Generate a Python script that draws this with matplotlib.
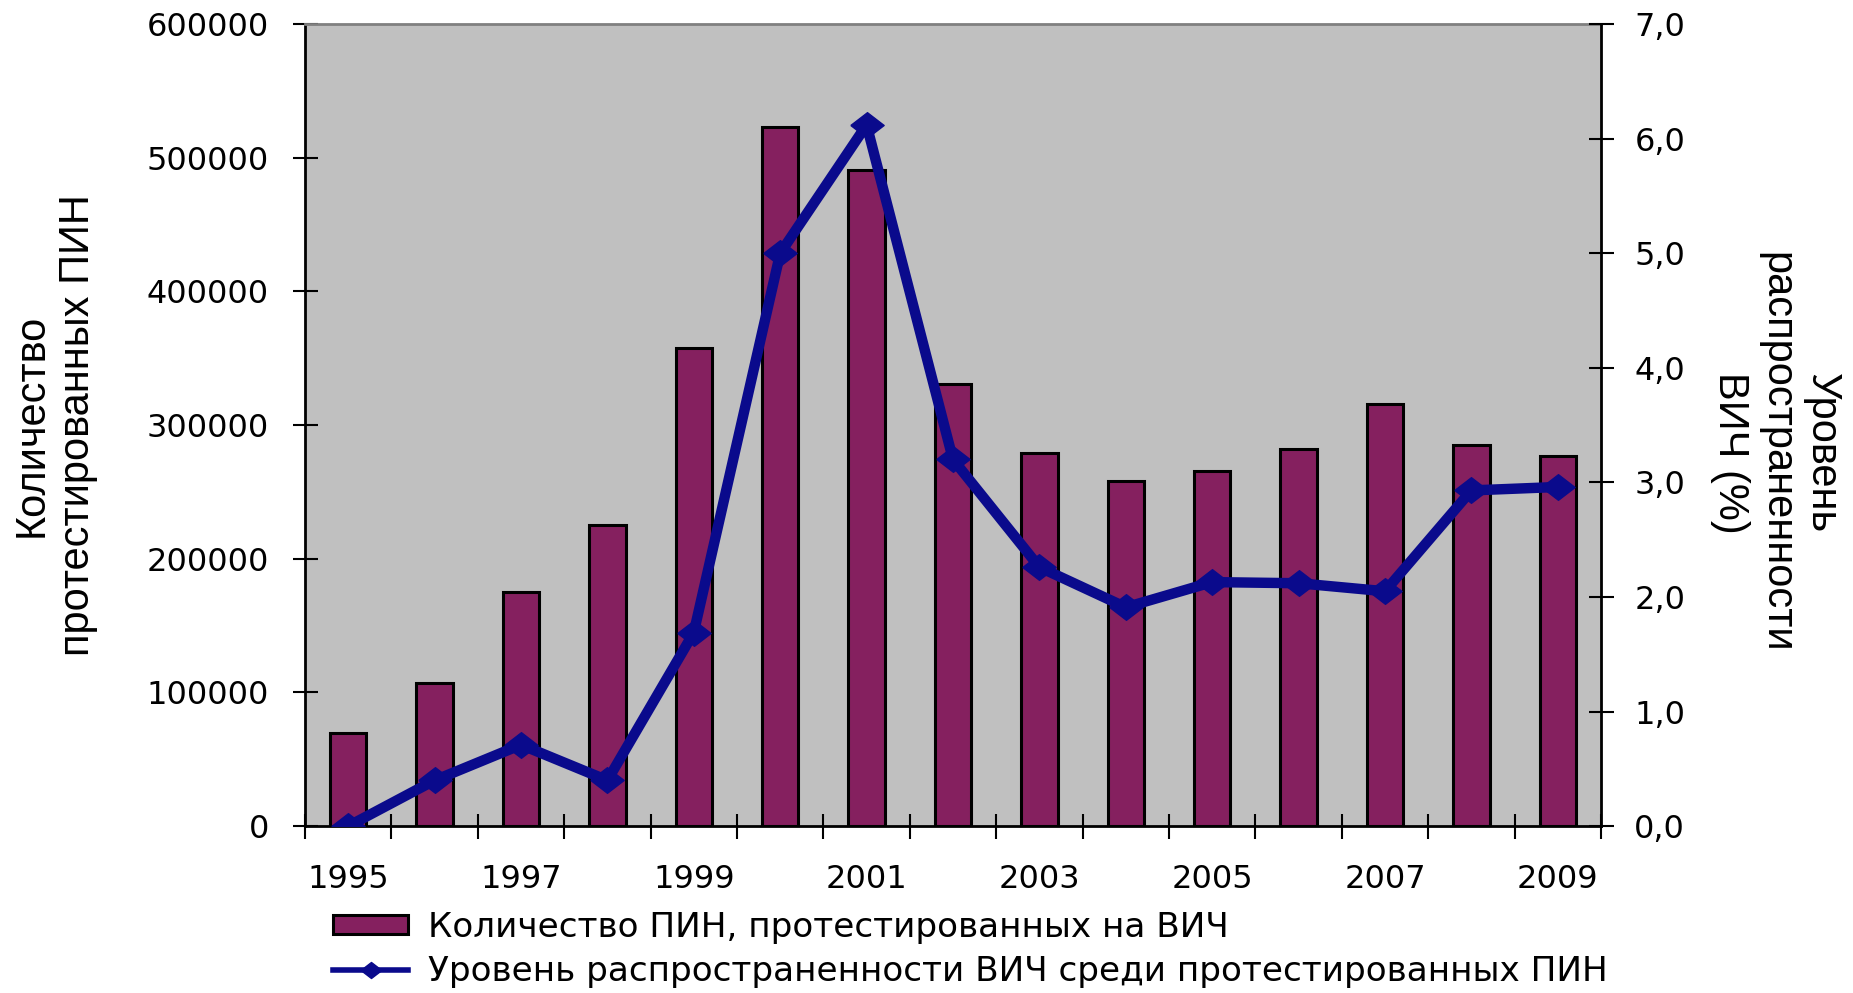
import matplotlib
matplotlib.use("Agg")
import matplotlib.pyplot as plt
import numpy as np

plt.rcParams['font.family'] = ['Liberation Sans', 'DejaVu Sans']

years = [1995, 1996, 1997, 1998, 1999, 2000, 2001, 2002, 2003, 2004, 2005, 2006, 2007, 2008, 2009]
tested = [70000, 107000, 175000, 225000, 358000, 523000, 491000, 331000,
          279000, 258000, 266000, 282000, 316000, 285000, 277000]
prevalence = [0.0, 0.40, 0.71, 0.40, 1.69, 5.0, 6.12, 3.2,
              2.26, 1.91, 2.13, 2.12, 2.05, 2.93, 2.96]

bar_label = "Количество ПИН, протестированных на ВИЧ"
line_label = "Уровень распространенности ВИЧ среди протестированных ПИН"

tick_font = {'family': 'DejaVu Sans', 'size': 23}
diamond = [(-1.3, 0), (0, 1), (1.3, 0), (0, -1), (-1.3, 0)]

fig = plt.figure(figsize=(18.53, 9.93), dpi=100)
ax = fig.add_axes([0.1646, 0.168, 0.6994, 0.8078])
ax.set_facecolor('#c0c0c0')

x = np.arange(len(years))
bars = ax.bar(x, tested, width=0.42, color='#85205f', edgecolor='black', linewidth=2.2,
              label=bar_label, zorder=2)
ax.set_xlim(-0.5, len(years) - 0.5)
ax.set_ylim(0, 600000)
ax.set_yticks(range(0, 600001, 100000))
ax.set_yticklabels([str(v) for v in range(0, 600001, 100000)], fontdict=tick_font)
ax.tick_params(axis='y', direction='inout', length=18, width=1.5, pad=17)

ax.set_xticks(x[::2])
ax.set_xticklabels([str(y) for y in years[::2]], fontdict=tick_font)
ax.set_xticks(np.arange(-0.5, len(years), 1.0), minor=True)
ax.tick_params(axis='x', which='major', length=0, pad=27)
ax.tick_params(axis='x', which='minor', direction='inout', length=18, width=1.5)

for s in ['left', 'bottom']:
    ax.spines[s].set_linewidth(2)
ax.spines['top'].set_color('#808080')
ax.spines['top'].set_linewidth(2)
ax.spines['right'].set_visible(False)

ax2 = ax.twinx()
ln, = ax2.plot(x, prevalence, color='#0a0a8c', linewidth=7.5, marker=diamond, markersize=24,
               label=line_label, zorder=3)
ax2.set_ylim(0, 7)
rticks = np.arange(0, 7.01, 1.0)
ax2.set_yticks(rticks)
ax2.set_yticklabels([f"{v:.1f}".replace('.', ',') for v in rticks], fontdict=tick_font)
ax2.tick_params(axis='y', direction='inout', length=18, width=1.5, pad=15)
ax2.spines['right'].set_linewidth(2)
ax2.spines['top'].set_visible(False)
ax2.spines['left'].set_visible(False)
ax2.spines['bottom'].set_visible(False)

fig.text(0.0297, 0.572, "Количество\nпротестированных ПИН", rotation=90, fontsize=30,
         family='Liberation Sans', ha='center', va='center', multialignment='center',
         linespacing=1.2)
fig.text(0.9585, 0.544, "Уровень\nраспространенности\nВИЧ (%)", rotation=270, fontsize=30,
         family='Liberation Sans', ha='center', va='center', multialignment='center',
         linespacing=1.2)

ln_leg, = plt.plot([], [], color='#0a0a8c', linewidth=4, marker=diamond, markersize=15)
fig.legend([bars, ln_leg], [bar_label, line_label], loc='upper left',
           bbox_to_anchor=(0.1797, 0.083), frameon=False,
           prop={'family': 'DejaVu Sans', 'size': 24.7},
           handlelength=2.2, handleheight=0.5, handletextpad=0.58, labelspacing=0.32,
           borderaxespad=0, borderpad=0)

fig.savefig("out.png", dpi=100)
